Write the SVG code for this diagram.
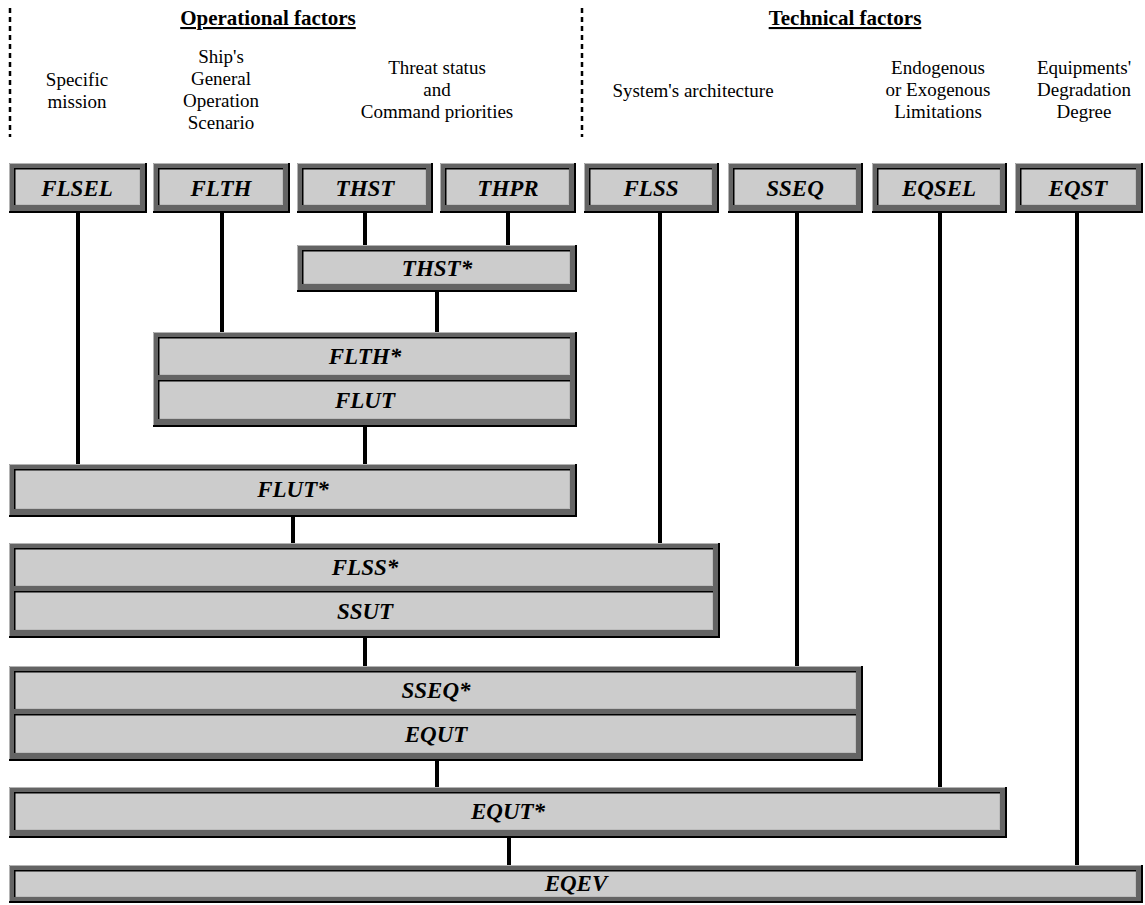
<svg xmlns="http://www.w3.org/2000/svg" width="1145" height="905" viewBox="0 0 1145 905">
  <style>
    .frame { fill: #646464; }
    .hl { fill: none; stroke: #b4b4b4; stroke-width: 1; }
    .sh { fill: none; stroke: #000; stroke-width: 2; }
    .face { fill: #cccccc; }
    .ins { fill: none; stroke: #000; stroke-width: 1.5; }
    .lit { fill: none; stroke: #bcbcbc; stroke-width: 1; }
    text { font-family: 'Liberation Serif', 'Times New Roman', serif; fill: #000; text-anchor: middle; }
    .lbl { font-size: 23px; font-weight: bold; font-style: italic; }
    .head { font-size: 21px; font-weight: bold; text-decoration: underline; }
    .note { font-size: 19px; }
    .sep { fill: none; stroke: #000; stroke-width: 2.5; stroke-dasharray: 5 4; }
    .wire { fill: none; stroke: #000; stroke-width: 4; }
  </style>

  <!-- column headings -->
  <g id="headings">
    <line class="sep" x1="10" y1="8" x2="10" y2="137"/>
    <line class="sep" x1="582" y1="8" x2="582" y2="137"/>
    <text class="head" x="268" y="25">Operational factors</text>
    <text class="head" x="845" y="25">Technical factors</text>
    <text class="note"><tspan x="77" y="86">Specific</tspan><tspan x="77" y="108">mission</tspan></text>
    <text class="note"><tspan x="221" y="63">Ship's</tspan><tspan x="221" y="85">General</tspan><tspan x="221" y="107">Operation</tspan><tspan x="221" y="129">Scenario</tspan></text>
    <text class="note"><tspan x="437" y="74">Threat status</tspan><tspan x="437" y="96">and</tspan><tspan x="437" y="118">Command priorities</tspan></text>
    <text class="note" x="693" y="97">System's architecture</text>
    <text class="note"><tspan x="938" y="74">Endogenous</tspan><tspan x="938" y="96">or Exogenous</tspan><tspan x="938" y="118">Limitations</tspan></text>
    <text class="note"><tspan x="1084" y="74">Equipments'</tspan><tspan x="1084" y="96">Degradation</tspan><tspan x="1084" y="118">Degree</tspan></text>
  </g>

  <!-- connectors -->
  <g id="connectors">
    <line class="wire" x1="78" y1="213" x2="78" y2="464"/>
    <line class="wire" x1="222" y1="213" x2="222" y2="332"/>
    <line class="wire" x1="365" y1="213" x2="365" y2="245"/>
    <line class="wire" x1="508" y1="213" x2="508" y2="245"/>
    <line class="wire" x1="437" y1="292" x2="437" y2="332"/>
    <line class="wire" x1="365" y1="427" x2="365" y2="464"/>
    <line class="wire" x1="293" y1="517" x2="293" y2="543"/>
    <line class="wire" x1="660" y1="213" x2="660" y2="543"/>
    <line class="wire" x1="365" y1="638" x2="365" y2="666"/>
    <line class="wire" x1="797" y1="213" x2="797" y2="666"/>
    <line class="wire" x1="437" y1="761" x2="437" y2="787"/>
    <line class="wire" x1="940" y1="213" x2="940" y2="787"/>
    <line class="wire" x1="509" y1="838" x2="509" y2="865"/>
    <line class="wire" x1="1077" y1="213" x2="1077" y2="865"/>
  </g>

  <!-- top row -->
  <g id="FLSEL">
    <rect class="frame" x="9" y="163" width="138" height="50"/>
    <path class="hl" d="M9.5,213 V163.5 H147"/>
    <path class="sh" d="M9,212 H146 V163"/>
    <rect class="face" x="14" y="168" width="126" height="37"/>
    <path class="lit" d="M14,204.5 H139.5 V168"/>
    <path class="ins" d="M14.75,205 V168.75 H140"/>
    <text class="lbl" x="77" y="196">FLSEL</text>
  </g>
  <g id="FLTH">
    <rect class="frame" x="153" y="163" width="137" height="50"/>
    <path class="hl" d="M153.5,213 V163.5 H290"/>
    <path class="sh" d="M153,212 H289 V163"/>
    <rect class="face" x="158" y="168" width="125" height="37"/>
    <path class="lit" d="M158,204.5 H282.5 V168"/>
    <path class="ins" d="M158.75,205 V168.75 H283"/>
    <text class="lbl" x="221" y="196">FLTH</text>
  </g>
  <g id="THST">
    <rect class="frame" x="297" y="163" width="136" height="50"/>
    <path class="hl" d="M297.5,213 V163.5 H433"/>
    <path class="sh" d="M297,212 H432 V163"/>
    <rect class="face" x="302" y="168" width="124" height="37"/>
    <path class="lit" d="M302,204.5 H425.5 V168"/>
    <path class="ins" d="M302.75,205 V168.75 H426"/>
    <text class="lbl" x="365" y="196">THST</text>
  </g>
  <g id="THPR">
    <rect class="frame" x="440" y="163" width="136" height="50"/>
    <path class="hl" d="M440.5,213 V163.5 H576"/>
    <path class="sh" d="M440,212 H575 V163"/>
    <rect class="face" x="445" y="168" width="124" height="37"/>
    <path class="lit" d="M445,204.5 H568.5 V168"/>
    <path class="ins" d="M445.75,205 V168.75 H569"/>
    <text class="lbl" x="508" y="196">THPR</text>
  </g>
  <g id="FLSS">
    <rect class="frame" x="584" y="163" width="135" height="50"/>
    <path class="hl" d="M584.5,213 V163.5 H719"/>
    <path class="sh" d="M584,212 H718 V163"/>
    <rect class="face" x="589" y="168" width="123" height="37"/>
    <path class="lit" d="M589,204.5 H711.5 V168"/>
    <path class="ins" d="M589.75,205 V168.75 H712"/>
    <text class="lbl" x="651" y="196">FLSS</text>
  </g>
  <g id="SSEQ">
    <rect class="frame" x="728" y="163" width="135" height="50"/>
    <path class="hl" d="M728.5,213 V163.5 H863"/>
    <path class="sh" d="M728,212 H862 V163"/>
    <rect class="face" x="733" y="168" width="123" height="37"/>
    <path class="lit" d="M733,204.5 H855.5 V168"/>
    <path class="ins" d="M733.75,205 V168.75 H856"/>
    <text class="lbl" x="795" y="196">SSEQ</text>
  </g>
  <g id="EQSEL">
    <rect class="frame" x="872" y="163" width="135" height="50"/>
    <path class="hl" d="M872.5,213 V163.5 H1007"/>
    <path class="sh" d="M872,212 H1006 V163"/>
    <rect class="face" x="877" y="168" width="123" height="37"/>
    <path class="lit" d="M877,204.5 H999.5 V168"/>
    <path class="ins" d="M877.75,205 V168.75 H1000"/>
    <text class="lbl" x="939" y="196">EQSEL</text>
  </g>
  <g id="EQST">
    <rect class="frame" x="1015" y="163" width="128" height="50"/>
    <path class="hl" d="M1015.5,213 V163.5 H1143"/>
    <path class="sh" d="M1015,212 H1142 V163"/>
    <rect class="face" x="1020" y="168" width="116" height="37"/>
    <path class="lit" d="M1020,204.5 H1135.5 V168"/>
    <path class="ins" d="M1020.75,205 V168.75 H1136"/>
    <text class="lbl" x="1078" y="196">EQST</text>
  </g>

  <!-- combined threat status -->
  <g id="THST-star">
    <rect class="frame" x="297" y="245" width="280" height="47"/>
    <path class="hl" d="M297.5,292 V245.5 H577"/>
    <path class="sh" d="M297,291 H576 V245"/>
    <rect class="face" x="302" y="250" width="268" height="34"/>
    <path class="lit" d="M302,283.5 H569.5 V250"/>
    <path class="ins" d="M302.75,284 V250.75 H570"/>
    <text class="lbl" x="437" y="276">THST*</text>
  </g>

  <!-- FLTH* / FLUT -->
  <g id="FLTH-star-FLUT">
    <rect class="frame" x="153" y="332" width="424" height="95"/>
    <path class="hl" d="M153.5,427 V332.5 H577"/>
    <path class="sh" d="M153,426 H576 V332"/>
    <rect class="face" x="158" y="337" width="412" height="38"/>
    <path class="lit" d="M158,374.5 H569.5 V337"/>
    <path class="ins" d="M158.75,375 V337.75 H570"/>
    <rect class="face" x="158" y="380" width="412" height="39"/>
    <path class="lit" d="M158,418.5 H569.5 V380"/>
    <path class="ins" d="M158.75,419 V380.75 H570"/>
    <text class="lbl" x="365" y="364">FLTH*</text>
    <text class="lbl" x="365" y="408">FLUT</text>
  </g>

  <!-- FLUT* -->
  <g id="FLUT-star">
    <rect class="frame" x="9" y="464" width="568" height="53"/>
    <path class="hl" d="M9.5,517 V464.5 H577"/>
    <path class="sh" d="M9,516 H576 V464"/>
    <rect class="face" x="14" y="469" width="556" height="40"/>
    <path class="lit" d="M14,508.5 H569.5 V469"/>
    <path class="ins" d="M14.75,509 V469.75 H570"/>
    <text class="lbl" x="293" y="497">FLUT*</text>
  </g>

  <!-- FLSS* / SSUT -->
  <g id="FLSS-star-SSUT">
    <rect class="frame" x="9" y="543" width="711" height="95"/>
    <path class="hl" d="M9.5,638 V543.5 H720"/>
    <path class="sh" d="M9,637 H719 V543"/>
    <rect class="face" x="14" y="548" width="699" height="38"/>
    <path class="lit" d="M14,585.5 H712.5 V548"/>
    <path class="ins" d="M14.75,586 V548.75 H713"/>
    <rect class="face" x="14" y="591" width="699" height="39"/>
    <path class="lit" d="M14,629.5 H712.5 V591"/>
    <path class="ins" d="M14.75,630 V591.75 H713"/>
    <text class="lbl" x="365" y="575">FLSS*</text>
    <text class="lbl" x="365" y="619">SSUT</text>
  </g>

  <!-- SSEQ* / EQUT -->
  <g id="SSEQ-star-EQUT">
    <rect class="frame" x="9" y="666" width="854" height="95"/>
    <path class="hl" d="M9.5,761 V666.5 H863"/>
    <path class="sh" d="M9,760 H862 V666"/>
    <rect class="face" x="14" y="671" width="842" height="38"/>
    <path class="lit" d="M14,708.5 H855.5 V671"/>
    <path class="ins" d="M14.75,709 V671.75 H856"/>
    <rect class="face" x="14" y="714" width="842" height="39"/>
    <path class="lit" d="M14,752.5 H855.5 V714"/>
    <path class="ins" d="M14.75,753 V714.75 H856"/>
    <text class="lbl" x="436" y="698">SSEQ*</text>
    <text class="lbl" x="436" y="742">EQUT</text>
  </g>

  <!-- EQUT* -->
  <g id="EQUT-star">
    <rect class="frame" x="9" y="787" width="998" height="51"/>
    <path class="hl" d="M9.5,838 V787.5 H1007"/>
    <path class="sh" d="M9,837 H1006 V787"/>
    <rect class="face" x="14" y="792" width="986" height="38"/>
    <path class="lit" d="M14,829.5 H999.5 V792"/>
    <path class="ins" d="M14.75,830 V792.75 H1000"/>
    <text class="lbl" x="508" y="819">EQUT*</text>
  </g>

  <!-- EQEV -->
  <g id="EQEV">
    <rect class="frame" x="9" y="865" width="1134" height="38"/>
    <path class="hl" d="M9.5,903 V865.5 H1143"/>
    <path class="sh" d="M9,902 H1142 V865"/>
    <rect class="face" x="14" y="870" width="1122" height="27"/>
    <path class="lit" d="M14,896.5 H1135.5 V870"/>
    <path class="ins" d="M14.75,897 V870.75 H1136"/>
    <text class="lbl" x="576" y="891">EQEV</text>
  </g>
</svg>
